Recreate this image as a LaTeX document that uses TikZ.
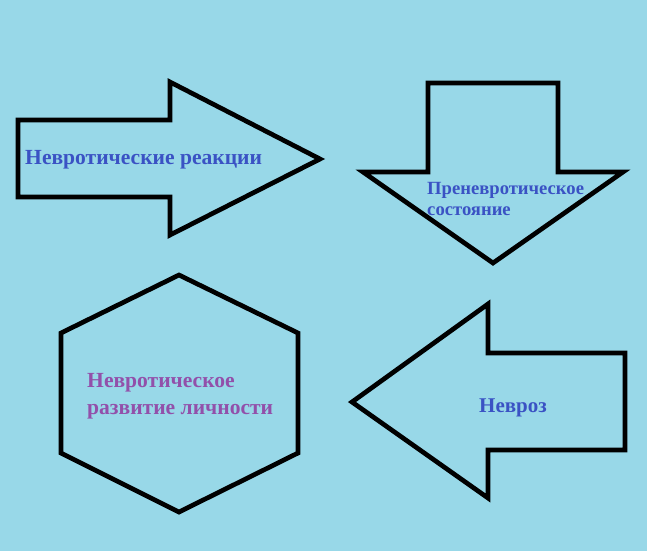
\documentclass[tikz,border=0pt]{standalone}
\usepackage{fontspec}
\setmainfont{Liberation Serif}
\usepackage{xcolor}
\usetikzlibrary{positioning}
\definecolor{skyback}{RGB}{152,216,232}
\definecolor{lblblue}{RGB}{58,82,196}
\definecolor{lblpurple}{RGB}{146,80,170}
\tikzset{
	shp/.style={draw=black, line width=4pt, line join=miter, miter limit=4},
	lbl/.style={font=\bfseries, text=lblblue, align=left, inner sep=0pt},
	lblp/.style={lbl, text=lblpurple},
}
\begin{document}
\begin{tikzpicture}[x=0.03cm, y=-0.03cm]
	\fill[skyback] (0,0) rectangle (647,551);
	\useasboundingbox (0,0) rectangle (647,551);
	% arrow to the right
	\draw[shp] (18,120) -- (170,120) -- (170,82) -- (320,159) -- (170,235) -- (170,197) -- (18,197) -- cycle;
	% arrow pointing down
	\draw[shp] (428,83) -- (558,83) -- (558,172) -- (623,172) -- (493,263) -- (363,172) -- (428,172) -- cycle;
	% hexagon
	\draw[shp] (179,275) -- (298,333) -- (298,453) -- (179,512) -- (61,453) -- (61,333) -- cycle;
	% arrow to the left
	\draw[shp] (352,402) -- (488,304) -- (488,353) -- (625,353) -- (625,450) -- (488,450) -- (488,498) -- cycle;
	\node[lbl, font=\fontsize{18.4}{20}\selectfont\bfseries, anchor=west] at (25,160) (reac) {Невротические реакции};
	\node[lbl, font=\fontsize{15.9}{18}\selectfont\bfseries, anchor=west] at (427,199) (prenev) {Преневротическое\\состояние};
	\node[lblp, font=\fontsize{18.4}{23}\selectfont\bfseries, anchor=west] at (87,396) (razv) {Невротическое\\развитие личности};
	\node[lbl, font=\fontsize{17.9}{20}\selectfont\bfseries] at (513,408) (nevroz) {Невроз};
\end{tikzpicture}
\end{document}
